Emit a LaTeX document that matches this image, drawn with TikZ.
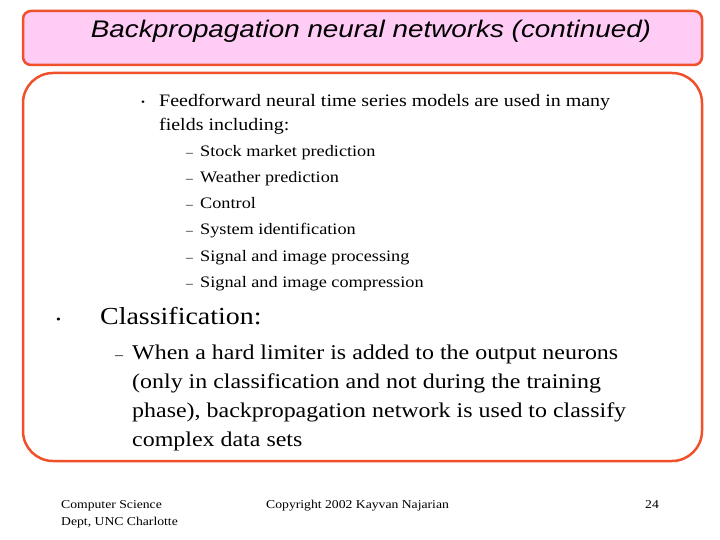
\documentclass[tikz,border=0pt]{standalone}
\usepackage{fontspec}
\setmainfont[FakeStretch=1.14]{Liberation Serif}
\newfontfamily\ttl[FakeStretch=1.16]{Liberation Sans}
\definecolor{bred}{HTML}{F0502A}
\definecolor{bpink}{HTML}{FFCCF5}
\begin{document}
\begin{tikzpicture}[x=1pt,y=-1pt,
  tx/.style={anchor=base west,inner sep=0pt},
  small/.style={tx,font=\fontsize{16}{18}\selectfont},
  med/.style={tx,font=\fontsize{17.5}{20}\selectfont},
  big/.style={tx,font=\fontsize{21}{24}\selectfont},
  foot/.style={tx,font=\fontsize{12}{14}\selectfont}]
\useasboundingbox (0,0) rectangle (720,540);
\fill[white] (0,0) rectangle (720,540);
\draw[bred,line width=2.5pt,fill=bpink,rounded corners=8pt] (23,11) rectangle (702,65);
\node[anchor=center,font=\ttl\itshape\fontsize{24}{28}\selectfont] (title) at (371,31) {Backpropagation neural networks (continued)};
\draw[bred,line width=2.5pt,rounded corners=30pt] (23,73) rectangle (702,461);
\node[tx,font=\fontsize{10}{12}\selectfont] (b1) at (141,106) {•};
\node[med] (f1) at (159,107) {Feedforward neural time series models are used in many};
\node[med] (f2) at (159,131) {fields including:};
\foreach \t [count=\i] in {Stock market prediction,Weather prediction,Control,System identification,Signal and image processing,Signal and image compression}{
  \node[tx,font=\fontsize{12}{14}\selectfont] (d\i) at (186,{157+26*(\i-1)}) {–};
  \node[small] (s\i) at (200,{157+26*(\i-1)}) {\t};
}
\node[tx,font=\fontsize{12}{14}\selectfont] (b2) at (56,323) {•};
\node[tx,font=\fontsize{24.5}{28}\selectfont] (cl) at (100,324) {Classification:};
\node[tx,font=\fontsize{14}{16}\selectfont] (d7) at (115,359) {–};
\node[big] (c1) at (132,359) {When a hard limiter is added to the output neurons};
\node[big] (c2) at (132,388) {(only in classification and not during the training};
\node[big] (c3) at (132,417) {phase), backpropagation network is used to classify};
\node[big] (c4) at (132,446) {complex data sets};
\node[foot] (ft1) at (61,508) {Computer Science};
\node[foot] (ft2) at (61,525) {Dept, UNC Charlotte};
\node[foot] (ft3) at (266,508) {Copyright 2002 Kayvan Najarian};
\node[foot] (ft4) at (645,508) {24};
\end{tikzpicture}
\end{document}
